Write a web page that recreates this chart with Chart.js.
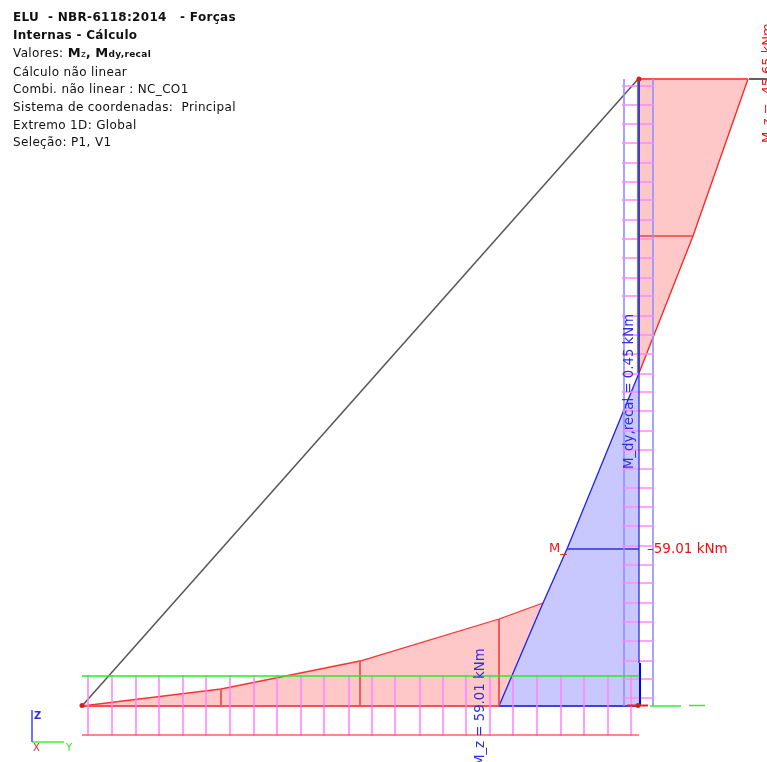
<!DOCTYPE html>
<html>
<head>
<meta charset="utf-8">
<script src="https://cdn.jsdelivr.net/npm/chart.js@4"></script>
<style>
  html, body { margin: 0; padding: 0; background: #fff; overflow: hidden; }
  #caja { position: relative; width: 767px; height: 762px; }
  #grafico { position: absolute; left: 0; top: 0; }
  #cabecera {
    position: absolute; left: 13px; top: 9px; width: 240px;
    font: 12px/17.6px "DejaVu Sans", sans-serif; color: #111;
    letter-spacing: 0.35px; white-space: nowrap;
  }
  #cabecera b { letter-spacing: 0.3px; }
  #cabecera small { font-size: 9px; }
  #cabecera b.m { font-size: 13px; }
</style>
</head>
<body>
<div id="caja">
  <canvas id="grafico" width="767" height="762"></canvas>
  <div id="cabecera">
    <b>ELU &nbsp;- NBR-6118:2014 &nbsp; - Forças</b><br>
    <b>Internas - Cálculo</b><br>
    Valores: <b class="m">M</b><small>z</small><b>, </b><b class="m">M</b><small><b>dy,recal</b></small><br>
    Cálculo não linear<br>
    Combi. não linear : NC_CO1<br>
    Sistema de coordenadas: &nbsp;Principal<br>
    Extremo 1D: Global<br>
    Seleção: P1, V1
  </div>
</div>
<script>
// Geometria (unidades = px da tela do programa)
const topoY = 78;
const baseY = 706;
const inicioX = 82;
const pilarX = 639;

// Diagrama M_z no pilar (topo)
const mzPilarX = [639, 654, 693, 748];
const mzPilarY = [373, 335, 236, 79];

// Diagrama M_z na viga
const mzVigaX = [82, 221, 360, 499, 543];
const mzVigaY = [706, 689, 661, 619, 603];

// Diagrama M_dy,recal
const mdyX = [499, 543, 567, 639];
const mdyY = [706, 603, 549, 373];

// Divisoes internas dos diagramas
const divVigaX = [221, 360, 499];
const divVigaY = [689, 661, 619];

// Marcas rosa da faixa da viga e do pilar
const marcasVigaX = [88, 112, 136, 159, 183, 206, 230, 254, 277, 301, 324, 349, 372, 395, 420, 443, 466, 490, 513, 537, 561, 584, 608, 631];
const marcasPilarY = [86, 105, 124, 143, 163, 182, 200, 220, 239, 258, 278, 296, 316, 335, 354, 374, 392, 411, 431, 450, 469, 488, 507, 526, 546, 565, 583, 603, 622, 641, 661, 679, 698];

// Faixas
const faixaVerdeY = 676;
const faixaVermelhaY = 735;
const faixaPilarX = [624, 653];

// Junta x,y em pontos
function pontos(xs, ys) {
    return xs.map((x, i) => ({ x: x, y: ys[i] }));
}

// Varios segmentos soltos no mesmo dataset
function segmentos(lista) {
    const saida = [];
    lista.forEach(s => {
        saida.push({ x: s[0], y: s[1] }, { x: s[2], y: s[3] }, { x: NaN, y: NaN });
    });
    return saida;
}

function linha(data, cor, largura, extra) {
    return Object.assign({
        data: data,
        showLine: true,
        borderColor: cor,
        borderWidth: largura,
        pointRadius: 0,
        fill: false,
        spanGaps: false,
        tension: 0
    }, extra || {});
}

const datasets = [
    // preenchimentos
    linha(pontos(mzPilarX, mzPilarY), '#ff2020', 1.3, { fill: { value: topoY }, backgroundColor: '#ffc8c8', order: 20 }),
    linha(pontos(mzVigaX, mzVigaY), '#ff3030', 1.3, { fill: { value: baseY }, backgroundColor: '#ffc8c8', order: 19 }),
    linha(pontos(mdyX, mdyY), '#2020f0', 1.3, { fill: { value: baseY }, backgroundColor: '#c8c8ff', order: 18 }),
    // divisoes
    linha(segmentos(divVigaX.map((x, i) => [x, divVigaY[i], x, baseY])), '#f05050', 1.8, { order: 17 }),
    linha(segmentos([[639, 236, 693, 236]]), '#f04040', 1.4, { order: 17 }),
    linha(segmentos([[567, 549, 639, 549]]), '#3030d8', 1.4, { order: 17 }),
    // contorno da estrutura
    linha(segmentos([[inicioX, baseY, 639, topoY]]), '#555555', 1.5, { order: 16 }),
    linha(segmentos([[639, 79, 748, 79]]), '#ff5050', 1.8, { order: 15 }),
    linha(segmentos([[749, 79, 767, 79]]), '#505050', 1.8, { order: 15 }),
    linha(segmentos([[inicioX, baseY, 499, baseY]]), '#f85050', 1.8, { order: 15 }),
    linha(segmentos([[499, baseY, 639, baseY]]), '#4040e0', 1.8, { order: 15 }),
    // faixas
    linha(segmentos(faixaPilarX.map(x => [x, topoY + 1, x, baseY])), '#9090ff', 1.6, { order: 14 }),
    linha(segmentos(marcasVigaX.map(x => [x, faixaVerdeY - 1, x, faixaVermelhaY + 1])), '#ff80ff', 1.5, { order: 13 }),
    linha(segmentos(marcasPilarY.map(y => [622, y, 654, y])), '#ff88ff', 1.5, { order: 13 }),
    linha(segmentos([[inicioX, faixaVerdeY, pilarX, faixaVerdeY]]), '#20f020', 1.3, { order: 12 }),
    linha(segmentos([[inicioX, faixaVermelhaY, pilarX, faixaVermelhaY]]), '#ff6060', 1.6, { order: 12 }),
    // eixo do pilar
    linha(segmentos([[637.5, topoY, 637.5, 373]]), '#808080', 1.2, { order: 11 }),
    linha(segmentos([[639, topoY, 639, 373]]), '#3030c0', 1.8, { order: 10 }),
    linha(segmentos([[639, 373, 639, 663]]), '#3030e0', 1.3, { order: 10 }),
    linha(segmentos([[640, 663, 640, baseY]]), '#0000ff', 2, { order: 10 }),
    // apoio
    linha(segmentos([[650, baseY, 681, baseY], [689, 705.5, 705, 705.5]]), '#30f030', 1.6, { order: 9 }),
    linha(segmentos([[627, 705.5, 648, 705.5]]), '#f02020', 2, { order: 9 }),
    // eixos globais
    linha(segmentos([[32, 710, 32, 742]]), '#5050ff', 1.6, { order: 8 }),
    linha(segmentos([[32, 742, 64, 742]]), '#30f030', 1.4, { order: 8 }),
    // nos
    { data: pontos([82, 638, 639], [705.5, 705.5, 79]), showLine: false, pointRadius: 2.5, pointBackgroundColor: '#d02020', pointBorderWidth: 0, order: 7 }
];

// Textos presos as coordenadas das escalas
const textos = [
    { t: 'M_z = -45.65 kNm', x: 768, y: 143, rot: true, cor: '#f01010', tam: 13 },
    { t: 'M_dy,recal = 0.45 kNm', x: 630, y: 469, rot: true, cor: '#3030e0', tam: 13.3 },
    { t: 'M_z = 59.01 kNm', x: 481, y: 766, rot: true, cor: '#3030e0', tam: 13.3 },
    { t: 'M_', x: 549, y: 549, cor: '#f01010', tam: 13 },
    { t: '\u201359.01 kNm', x: 647, y: 549, cor: '#f01010', tam: 13.5 },
    { t: 'Z', x: 34, y: 716, cor: '#3030e0', tam: 10, negrito: true },
    { t: 'X', x: 33, y: 748, cor: '#f02020', tam: 10 },
    { t: 'Y', x: 66, y: 748, cor: '#30e030', tam: 10 }
];

const pluginTextos = {
    id: 'textos',
    afterDatasetsDraw(chart) {
        const c = chart.ctx;
        const ex = chart.scales.x;
        const ey = chart.scales.y;
        textos.forEach(o => {
            c.save();
            c.translate(ex.getPixelForValue(o.x), ey.getPixelForValue(o.y));
            if (o.rot) c.rotate(-Math.PI / 2);
            c.fillStyle = o.cor;
            c.font = (o.negrito ? 'bold ' : '') + o.tam + 'px "DejaVu Sans", sans-serif';
            c.textAlign = 'left';
            c.textBaseline = 'middle';
            c.fillText(o.t, 0, 0);
            c.restore();
        });
    }
};

new Chart(document.getElementById('grafico').getContext('2d'), {
    type: 'scatter',
    data: { datasets: datasets },
    options: {
        responsive: false,
        animation: false,
        layout: { padding: 0, autoPadding: false },
        plugins: { legend: { display: false }, tooltip: { enabled: false }, title: { display: false } },
        scales: {
            x: { type: 'linear', min: 0, max: 767, display: false },
            y: { type: 'linear', min: 0, max: 762, reverse: true, display: false }
        }
    },
    plugins: [pluginTextos]
});
</script>
</body>
</html>
